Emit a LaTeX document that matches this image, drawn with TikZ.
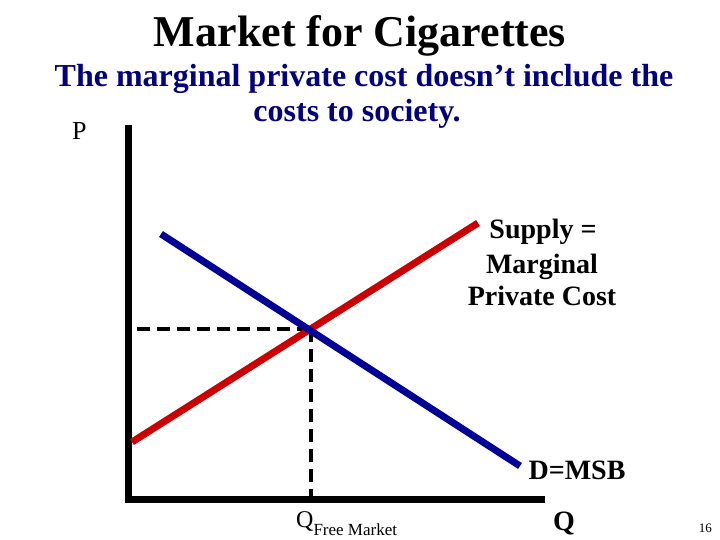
\documentclass[tikz,border=0pt]{standalone}
\usepackage{fontspec}
\setmainfont{Liberation Serif}
\definecolor{navy}{RGB}{0,0,128}
\definecolor{dblue}{RGB}{0,0,150}
\definecolor{dred}{RGB}{204,0,0}
\begin{document}
\begin{tikzpicture}[x=1pt,y=-1pt,
  axis/.style={line width=7pt, line join=miter},
  demand/.style={line width=7pt, draw=dblue},
  supply/.style={line width=7pt, draw=dred},
  guide/.style={line width=3.5pt, dash pattern=on 13pt off 7pt},
  lbl/.style={inner sep=0pt, anchor=base, font=\bfseries\fontsize{28}{28}\selectfont}]
\useasboundingbox (0,0) rectangle (720,540);
% titles
\node[inner sep=0pt, anchor=base, font=\bfseries\fontsize{44}{44}\selectfont] (title) at (360,47) {Market for Cigarettes};
\node[inner sep=0pt, anchor=base, text=navy, font=\bfseries\fontsize{32}{32}\selectfont] (sub1) at (364,87) {The marginal private cost doesn’t include the};
\node[inner sep=0pt, anchor=base, text=navy, font=\bfseries\fontsize{32}{32}\selectfont] (sub2) at (357,122) {costs to society.};
% axes
\coordinate (top) at (128.5,125);
\coordinate (origin) at (128.5,499.5);
\coordinate (right) at (545,499.5);
\draw[axis] (top) -- (origin) -- (right);
\node[inner sep=0pt, anchor=base west, font=\fontsize{26}{26}\selectfont] (P) at (72,140) {P};
% curves
\coordinate (d1) at (161,234);
\coordinate (d2) at (520,466);
\coordinate (s1) at (132,442);
\coordinate (s2) at (478,223);
\coordinate (E) at (311,329);
\coordinate (Ey) at (137,329);
\coordinate (Ex) at (311,496);
\draw[guide] (Ey) -- (E);
\draw[guide] (E) -- (Ex);
\draw[supply] (s1) -- (s2);
\draw[demand] (d1) -- (d2);
% labels
\node[lbl] (sup1) at (543,239) {Supply =};
\node[lbl] (sup2) at (542,273) {Marginal};
\node[lbl] (sup3) at (542,305) {Private Cost};
\node[lbl] (dmsb) at (577,479) {D=MSB};
\node[lbl] (Q) at (564,530) {Q};
\node[inner sep=0pt, anchor=base west] (QF) at (296,527) {\fontsize{24}{24}\selectfont Q\raisebox{-8pt}{\fontsize{17}{17}\selectfont Free Market}};
\node[inner sep=0pt, anchor=base east, font=\fontsize{13}{13}\selectfont] (pg) at (712,532) {16};
\end{tikzpicture}
\end{document}
